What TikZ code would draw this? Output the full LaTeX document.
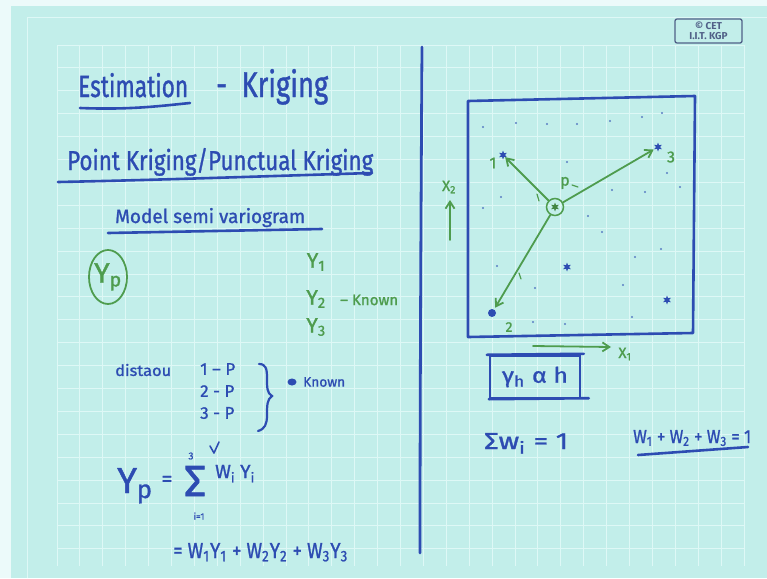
\documentclass[tikz,border=0pt]{standalone}
\usepackage{amsmath}
\usepackage{fontspec}
\usepackage{graphicx}
\setmainfont{Fira Sans}
\setsansfont{Fira Sans}
\newfontfamily\hand{Fira Sans}[FakeBold=1.2, Ligatures=TeX]
\usetikzlibrary{arrows.meta,shapes.geometric}
\definecolor{paper}{RGB}{194,238,234}
\definecolor{edge}{RGB}{236,250,250}
\definecolor{gridc}{RGB}{222,248,246}
\definecolor{inkblue}{RGB}{45,76,178}
\definecolor{inkgreen}{RGB}{78,156,78}
\definecolor{cetc}{RGB}{80,96,135}
\newcommand{\fitw}[2]{\resizebox{#1}{!}{#2}}
\newcommand{\fitwh}[3]{\resizebox{#1}{#2}{#3}}
\begin{document}
\begin{tikzpicture}[x=1pt,y=-1pt,
  bt/.style={text=inkblue, inner sep=0pt, font=\hand},
  gt/.style={text=inkgreen, inner sep=0pt, font=\hand},
  bline/.style={draw=inkblue, line width=2.6pt, line cap=round, line join=round},
  gline/.style={draw=inkgreen, line width=1.8pt, line cap=round},
  garrow/.style={gline, -{Straight Barb[length=7pt,width=9pt]}},
  dotb/.style={fill=inkblue!70!paper, circle, inner sep=0pt, minimum size=2.4pt},
  starb/.style={star, star points=6, star point ratio=2.2, fill=inkblue, inner sep=0pt, minimum size=9pt},
]
\useasboundingbox (0,0) rectangle (767,578);
\fill[edge] (0,0) rectangle (767,578);
\fill[paper] (11,6) rectangle (767,578);
\draw[gridc, line width=0.8pt] (27,578) -- (27,17) -- (767,17);
% grid
\foreach \i in {0,...,30} {\draw[gridc, line width=0.9pt] ({57+22.9*\i},45) -- ({57+22.9*\i},566);}
\foreach \j in {0,...,22} {\draw[gridc, line width=0.9pt] (57,{45+22.9*\j}) -- (744,{45+22.9*\j});}

% ---------- left half ----------
\node[bt, anchor=base west] (est) at (78,97) {\fitwh{110pt}{24pt}{Estimation}};
\draw[bline] (80,108) .. controls (130,110) and (160,106) .. (190,103);
\node[bt, anchor=base west] (krig) at (216,97) {\fitwh{112pt}{28pt}{-\ \ Kriging}};

\node[bt, anchor=base west] (point) at (67,170) {\fitwh{306pt}{22pt}{Point Kriging/Punctual Kriging}};
\draw[bline] (58,182) .. controls (160,180) and (270,176) .. (372,173);

\node[bt, anchor=base west] (model) at (115,223) {\fitwh{190pt}{15pt}{Model semi variogram}};
\draw[bline] (108,233) -- (322,229);

\node[draw=inkgreen, line width=1.8pt, ellipse, minimum width=38pt, minimum height=54pt, inner sep=0pt] (ypc) at (108,277) {};
\node[gt, font=\hand\fontsize{28}{28}\selectfont] (ypt) at (ypc) {Y\textsubscript{p}};

\node[gt, font=\hand\fontsize{21}{21}\selectfont] (y1) at (316,262) {Y\textsubscript{1}};
\node[gt, font=\hand\fontsize{21}{21}\selectfont] (y2) at (316,299) {Y\textsubscript{2}};
\node[gt, anchor=west] (known1) at (340,300) {\fitw{58pt}{\textendash\ Known}};
\node[gt, font=\hand\fontsize{21}{21}\selectfont] (y3) at (316,327) {Y\textsubscript{3}};

\node[bt, anchor=west] (dist) at (115,370) {\fitwh{56pt}{12pt}{distaou}};
\node[bt, anchor=west, font=\hand\fontsize{17}{17}\selectfont] (d1) at (200,369) {1 \textendash\ P};
\node[bt, anchor=west, font=\hand\fontsize{17}{17}\selectfont] (d2) at (200,391) {2 - P};
\node[bt, anchor=west, font=\hand\fontsize{17}{17}\selectfont] (d3) at (200,413) {3 - P};
\draw[draw=inkblue, line width=2.2pt, line cap=round]
  (259,364) .. controls (266,364) and (267,369) .. (267,378)
  .. controls (267,388) and (267,393) .. (272,396)
  .. controls (267,399) and (267,406) .. (267,415)
  .. controls (267,424) and (265,429) .. (258,431);
\node[fill=inkblue, ellipse, minimum width=9pt, minimum height=7pt, inner sep=0pt] (smudge) at (292,382) {};
\node[bt, anchor=west] (known2) at (303,382) {\fitw{42pt}{Known}};

\node[bt, anchor=base west, font=\hand\fontsize{36}{36}\selectfont] (yp) at (117,493) {Y\textsubscript{p}};
\node[bt, font=\hand\fontsize{22}{22}\selectfont] (eq1) at (167,481) {=};
\node[bt] (sum) at (195,481) {\resizebox*{22pt}{30pt}{Σ}};
\node[bt, font=\hand\fontsize{10}{10}\selectfont] (sup3) at (191,456) {3};
\node[bt, font=\hand\fontsize{9}{9}\selectfont] (sublim) at (199,516) {i=1};
\node[bt, anchor=base west, font=\hand\fontsize{19}{19}\selectfont] (wy) at (215,478) {W\textsubscript{i} Y\textsubscript{i}};
\draw[draw=inkblue, line width=1.6pt, line cap=round, line join=round] (210,446) -- (214,453) -- (219,442);
\node[bt, anchor=base west] (expand) at (173,558) {\fitwh{175pt}{15pt}{= W\textsubscript{1}Y\textsubscript{1} + W\textsubscript{2}Y\textsubscript{2} + W\textsubscript{3}Y\textsubscript{3}}};

% ---------- divider ----------
\draw[bline, line width=2.8pt] (422,47) .. controls (421,200) and (420,400) .. (420,553);

% ---------- right half ----------
\node[draw=cetc, line width=1.3pt, rounded corners=2pt, minimum width=67pt, minimum height=24pt, inner sep=0pt, align=center, text=cetc, font=\sffamily\bfseries\fontsize{10}{10}\selectfont] (cet) at (708.5,31) {\textcopyright\ CET\\I.I.T. KGP};

\draw[bline] (468,101) -- (695,96) -- (693,333) -- (468,337) -- cycle;

\foreach \p in {(483,127),(516,123),(547,124),(577,124),(610,121),(642,117),(662,113),(567,162),(667,173),(680,187),(501,197),(645,192),(612,190),(483,208),(588,216),(602,232),(661,249),(635,257),(497,266),(535,288),(623,285),(533,322),(565,324),(632,317)}
  {\node[dotb] at \p {};}

\node[starb] (p1) at (503,155) {};
\node[starb] (p3) at (658,147) {};
\node[starb] (s4) at (567,267) {};
\node[starb] (s5) at (667,300) {};
\node[fill=inkblue, circle, minimum size=8pt, inner sep=0pt] (p2) at (492,313) {};

\node[circle, draw=inkgreen, line width=1.5pt, minimum size=17pt, inner sep=0pt] (P) at (555,207) {};
\node[star, star points=6, star point ratio=2.2, fill=inkgreen!85!black, inner sep=0pt, minimum size=9pt] (Pin) at (P) {};

\draw[garrow] (P) -- (p1);
\draw[garrow] (P) -- (p3);
\draw[garrow, shorten >=2pt] (P) -- (p2);
\draw[gline, line width=1.2pt] (537,194) -- (539,201);
\draw[gline, line width=1.2pt] (519,273) -- (521,279);

\node[gt, font=\hand\fontsize{16}{16}\selectfont] (l1) at (493,163) {1};
\node[gt, font=\hand\fontsize{16}{16}\selectfont] (l3) at (671,157) {3};
\node[gt, font=\hand\fontsize{14}{14}\selectfont] (l2) at (509,327) {2};
\node[gt, font=\hand\fontsize{16}{16}\selectfont] (lP) at (565,183) {p};
\draw[gline, line width=1.2pt] (572,185) -- (578,187);

\coordinate (x2a) at (450,240);
\coordinate (x2b) at (450,200);
\draw[garrow] (x2a) -- (x2b);
\node[gt, font=\hand\fontsize{15}{15}\selectfont] (x2l) at (449,187) {X\textsubscript{2}};
\coordinate (x1a) at (533,346);
\coordinate (x1b) at (611,347);
\draw[garrow] (x1a) -- (x1b);
\node[gt, font=\hand\fontsize{15}{15}\selectfont] (x1l) at (625,354) {X\textsubscript{1}};

\node[draw=inkblue, line width=2.4pt, minimum width=90pt, minimum height=42pt, inner sep=0pt] (gbox) at (535,377) {};
\draw[bline] (gbox.north west) ++(-2,0) -- ++(97,-1);
\draw[bline] (gbox.south west) -- ++(100,-1);
\node[bt] (gtext) at (gbox) {\fitwh{66pt}{16pt}{γ\textsubscript{h} α h}};

\node[bt, anchor=base west] (sumw) at (484,449) {\fitwh{84pt}{16pt}{Σw\textsubscript{i} = 1}};
\node[bt, anchor=base west] (wsum) at (633,443) {\fitwh{118pt}{13pt}{W\textsubscript{1} + W\textsubscript{2} + W\textsubscript{3} = 1}};
\draw[bline] (638,455) -- (748,447);
\end{tikzpicture}
\end{document}
